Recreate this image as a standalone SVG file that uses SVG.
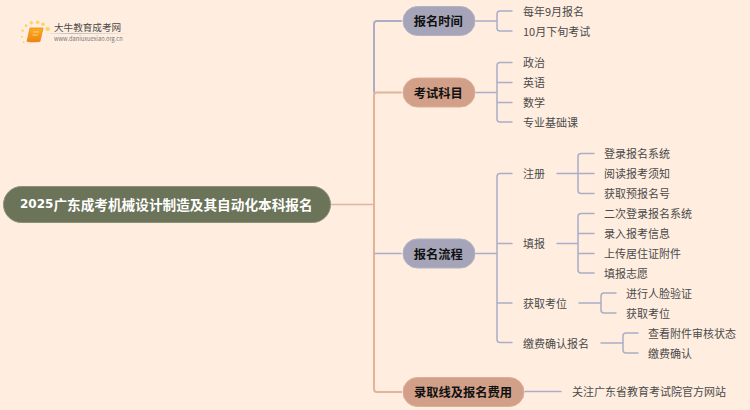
<svg xmlns="http://www.w3.org/2000/svg" width="750" height="410" viewBox="0 0 750 410">
<style>
text{font-family:"Noto Sans CJK SC","DejaVu Sans",sans-serif;dominant-baseline:central}
.leaf{font-size:11px;fill:#4a4a4a}
.main{font-size:12.25px;font-weight:700;fill:#111;text-anchor:middle}
.c{fill:none;stroke-width:1.5;stroke-linecap:round}
.t{stroke-width:2}
.g{stroke:#abadc6}
.o{stroke:#e2b39b}
.a{fill:#a6a4b8;stroke:#b3b1c4}
.b{fill:#d2a088;stroke:#dcae98}
</style>
<defs>
<linearGradient id="fade" x1="0" x2="1" y1="0" y2="0"><stop offset="0" stop-color="#bbb" stop-opacity="0"/><stop offset=".3" stop-color="#bbb"/><stop offset="1" stop-color="#bbb" stop-opacity="0"/></linearGradient>
<linearGradient id="book" x1="0" x2="0" y1="0" y2="1"><stop offset="0" stop-color="#fbb01f"/><stop offset="1" stop-color="#ee8210"/></linearGradient>
</defs>
<rect width="750" height="410" fill="#ffeee0"/>
<g id="logo">
<g fill="#fbd566"><circle cx="47.700" cy="29" r="2.200"/><circle cx="43" cy="24.300" r="1.800"/><circle cx="37.700" cy="22.300" r="1.800"/><circle cx="31.300" cy="22.700" r="1.700"/><circle cx="26" cy="25.700" r="1.400"/><circle cx="22.700" cy="30.700" r="1.200"/><circle cx="22" cy="36.700" r="1"/><circle cx="23.700" cy="42.300" r="1"/></g>
<path d="M30 28H43L40 41.500Q33 42.500 27 41.500Z" fill="url(#book)" stroke="#e8892a" stroke-width=".8"/>
<path d="M33 32h6M32.500 35h5" stroke="#ffe2a0" stroke-width=".8"/>
<text x="54" y="27" font-size="9.600" fill="#4a4a4a">大牛教育成考网</text>
<rect x="46" y="33" width="87" height="1" fill="url(#fade)"/>
<text x="54" y="38.700" font-size="5.700" fill="#777">www.daniuxuexiao.org.cn</text>
</g>
<g id="connectors">
<path class="c o" d="M331 204.500H374"/>
<path class="c g t" d="M374 92V24Q374 21 377 21H401"/>
<path class="c o t" d="M401 92.500H377Q374 92.500 374 95V389Q374 392 377 392H401"/>
<path class="c g" d="M375 253.500H401"/>
<path class="c g" d="M476 21H497M512 11H500Q497 11 497 14V28Q497 31 500 31H512"/>
<path class="c g" d="M476 92.500H497M512 62.500H500Q497 62.500 497 65.500V119Q497 122 500 122H512M497 82.500H512M497 102.500H512"/>
<path class="c g" d="M476 253.500H497M512 173.500H500Q497 173.500 497 176.500V339.500Q497 342.500 500 342.500H512M497 243.500H512M497 303H512"/>
<path class="c g" d="M557 173.500H578M594 153.500H581Q578 153.500 578 156.500V190.500Q578 193.500 581 193.500H594M578 173.500H594"/>
<path class="c g" d="M557 243.500H578M594 213.500H581Q578 213.500 578 216.500V270Q578 273 581 273H594M578 233.500H594M578 253.500H594"/>
<path class="c g" d="M579 303H601M616 293H604Q601 293 601 296V310Q601 313 604 313H616"/>
<path class="c g" d="M601 343H623M638 333H626Q623 333 623 336V350Q623 353 626 353H638"/>
<path class="c g" d="M525 391.500H561"/>
</g>
<g id="root"><rect x="3.500" y="186.500" width="327" height="36" rx="18" fill="#6b7359" stroke="#8d9079"/><text x="20" y="204" font-size="13.650px" font-weight="700" fill="#fff"><tspan font-family="DejaVu Sans" font-size="12px">2025</tspan>广东成考机械设计制造及其自动化本科报名</text></g>
<g id="n1"><rect class="a" x="403" y="6.500" width="72" height="29" rx="14.500"/><text class="main" x="438.300" y="21">报名时间</text></g>
<g id="n2"><rect class="b" x="403" y="78" width="72" height="29" rx="14.500"/><text class="main" x="438.300" y="92.500">考试科目</text></g>
<g id="n3"><rect class="a" x="403" y="239" width="72" height="29" rx="14.500"/><text class="main" x="438.300" y="253.500">报名流程</text></g>
<g id="n4"><rect class="b" x="403" y="377.500" width="121" height="29" rx="14.500"/><text class="main" x="463" y="391.500">录取线及报名费用</text></g>
<g id="l1"><text class="leaf" x="523" y="10.500">每年9月报名</text></g>
<g id="l2"><text class="leaf" x="523" y="30.500">10月下旬考试</text></g>
<g id="l3"><text class="leaf" x="523" y="61.500">政治</text></g>
<g id="l4"><text class="leaf" x="523" y="81.500">英语</text></g>
<g id="l5"><text class="leaf" x="523" y="101.500">数学</text></g>
<g id="l6"><text class="leaf" x="523" y="121.500">专业基础课</text></g>
<g id="l7"><text class="leaf" x="523" y="173">注册</text></g>
<g id="l8"><text class="leaf" x="523" y="242.500">填报</text></g>
<g id="l9"><text class="leaf" x="523" y="302.500">获取考位</text></g>
<g id="l10"><text class="leaf" x="523" y="342.500">缴费确认报名</text></g>
<g id="l11"><text class="leaf" x="604" y="153">登录报名系统</text></g>
<g id="l12"><text class="leaf" x="604" y="173">阅读报考须知</text></g>
<g id="l13"><text class="leaf" x="604" y="193">获取预报名号</text></g>
<g id="l14"><text class="leaf" x="604" y="213">二次登录报名系统</text></g>
<g id="l15"><text class="leaf" x="604" y="233">录入报考信息</text></g>
<g id="l16"><text class="leaf" x="604" y="252.500">上传居住证附件</text></g>
<g id="l17"><text class="leaf" x="604" y="272.500">填报志愿</text></g>
<g id="l18"><text class="leaf" x="626" y="292.500">进行人脸验证</text></g>
<g id="l19"><text class="leaf" x="626" y="312.500">获取考位</text></g>
<g id="l20"><text class="leaf" x="648" y="332.500">查看附件审核状态</text></g>
<g id="l21"><text class="leaf" x="648" y="352.500">缴费确认</text></g>
<g id="l22"><text class="leaf" x="572" y="391">关注广东省教育考试院官方网站</text></g>
</svg>
